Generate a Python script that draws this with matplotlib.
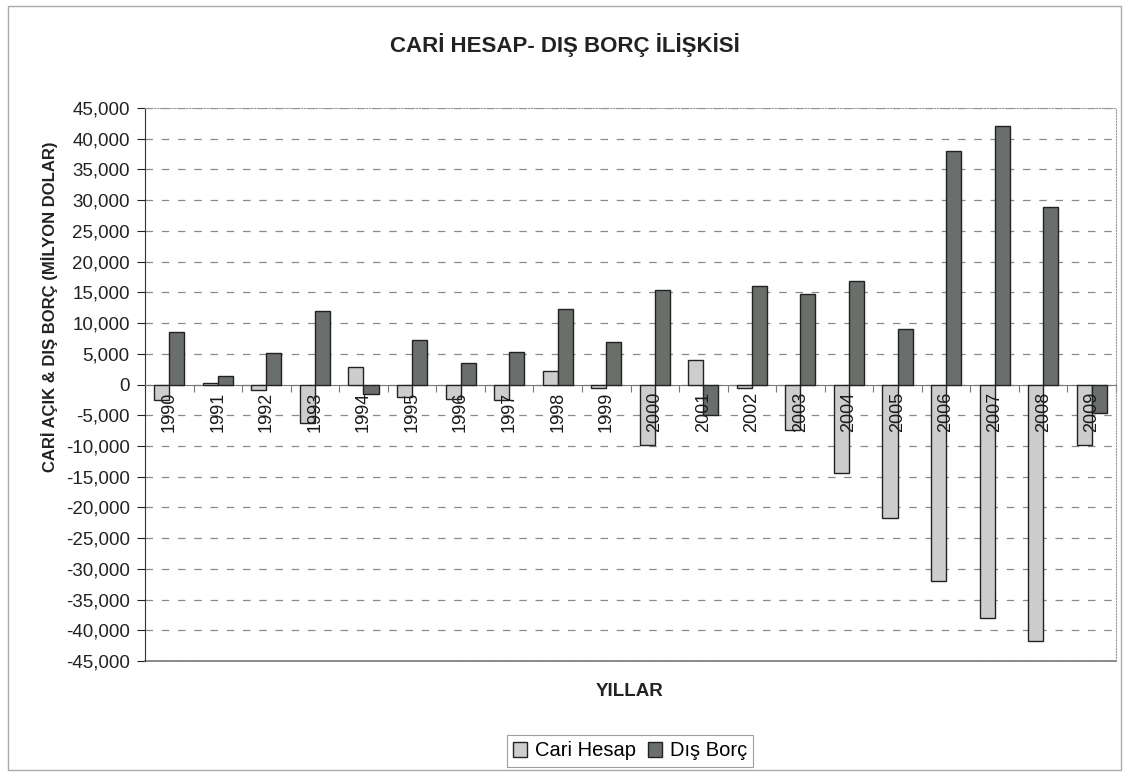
import numpy as np
import matplotlib
matplotlib.use("Agg")
from matplotlib import pyplot as plt
from matplotlib.patches import Rectangle
import matplotlib.ticker as mticker

plt.rcParams['font.family'] = ['Liberation Sans', 'DejaVu Sans']

# data (milyon dolar)
years = [str(y) for y in range(1990, 2010)]
cari_hesap = [-2600, 300, -900, -6300, 2850, -2050, -2300, -2500, 2150, -600,
              -9900, 4050, -500, -7400, -14350, -21800, -32000, -38000, -41700, -9800]
dis_borc = [8600, 1400, 5100, 11950, -1600, 7300, 3550, 5270, 12270, 6890,
            15460, -4950, 16000, 14650, 16920, 9030, 38000, 42000, 28920, -4600]

fig = plt.figure(figsize=(11.25, 7.76), dpi=100)
ax = fig.add_axes([145/1125, 1-661/776, (1116-145)/1125, (661-108)/776])

x = np.arange(len(years))
w = 0.31
ax.bar(x - w/2, cari_hesap, w, color='#cdcdcd', edgecolor='#222222', linewidth=1.0,
       label='Cari Hesap', zorder=3)
ax.bar(x + w/2, dis_borc, w, color='#6b6f6b', edgecolor='#222222', linewidth=1.0,
       label='Dış Borç', zorder=3)

ax.set_xlim(-0.5, len(years) - 0.5)
ax.set_ylim(-45000, 45000)
ax.set_yticks(np.arange(-45000, 45001, 5000))
ax.yaxis.set_major_formatter(mticker.FuncFormatter(lambda v, p: '{:,.0f}'.format(v)))
ax.tick_params(axis='y', labelsize=13.5, length=6, pad=5, direction='out', colors='#222222')
ax.yaxis.grid(True, linestyle=(0, (6, 7)), color='#8a8a8a', linewidth=0.9, zorder=0)

# category axis crosses at zero
ax.spines['bottom'].set_position(('data', 0))
ax.spines['bottom'].set_color('#777777')
ax.set_xticks(np.arange(-0.5, len(years), 1.0))
ax.set_xticklabels([])
ax.tick_params(axis='x', length=5, direction='out', colors='#777777')
for i, yr in enumerate(years):
    ax.annotate(yr, (i, 0), xytext=(0, -5), textcoords='offset points', rotation=90,
                ha='center', va='top', fontsize=13, color='#1a1a1a', zorder=4)

ax.spines['left'].set_color('#333333')
for s in ['top', 'right']:
    ax.spines[s].set_color('#999999')
    ax.spines[s].set_linestyle(':')
ax.axhline(-45000, color='#777777', linewidth=1.2, zorder=2, clip_on=False)

fig.text(565/1125, 1-45/776, 'CARİ HESAP- DIŞ BORÇ İLİŞKİSİ', ha='center', va='center',
         fontsize=16, fontweight='bold', color='#222222')
fig.text(50/1125, 1-307/776, 'CARİ AÇIK & DIŞ BORÇ (MİLYON DOLAR)', rotation=90,
         ha='center', va='center', fontsize=12, fontweight='bold', color='#222222')
fig.text(630/1125, 1-691/776, 'YILLAR', ha='center', va='center',
         fontsize=13.5, fontweight='bold', color='#222222')

leg = fig.legend(loc='center', bbox_to_anchor=(630/1125, 1-751/776), ncol=2,
                 fontsize=14.5, frameon=True, fancybox=False, edgecolor='#888888',
                 handlelength=0.7, handleheight=0.7, handletextpad=0.4,
                 columnspacing=0.6, borderpad=0.3)
leg.get_frame().set_linewidth(0.8)

fig.patches.append(Rectangle((8/1125, 1-770/776), (1121-8)/1125, (770-6)/776,
                             transform=fig.transFigure, fill=False,
                             edgecolor='#aaaaaa', linewidth=1.0))

plt.savefig('out.png', dpi=100)
